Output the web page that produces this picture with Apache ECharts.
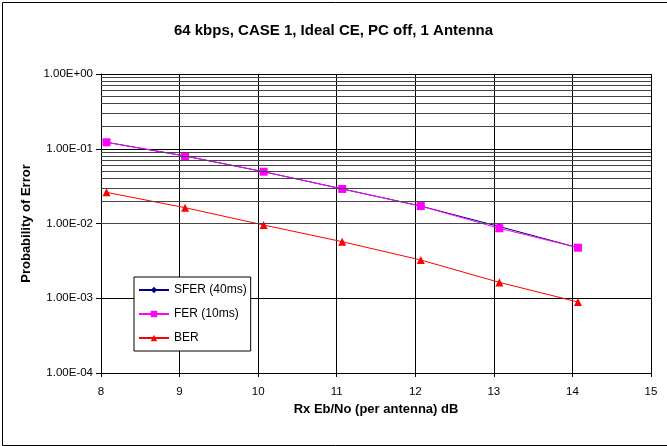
<!DOCTYPE html>
<html><head><meta charset="utf-8">
<script src="https://cdn.jsdelivr.net/npm/echarts@6/dist/echarts.min.js"></script>
<style>html,body{margin:0;padding:0;background:#fff}#c{width:667px;height:446px}</style>
</head><body><div id="c"></div>
<script>
var xValues = [8.07, 9.07, 10.07, 11.07, 12.07, 13.07, 14.07];
var sferValues = [0.122, 0.080, 0.0493, 0.029, 0.0171, 0.0091, 0.00475];
var ferValues = [0.122, 0.080, 0.0493, 0.029, 0.0171, 0.00863, 0.00475];
var berValues = [0.0261, 0.01627, 0.00955, 0.00571, 0.00325, 0.00163, 0.000891];
var minorLevels = [];
[1e-4, 1e-3, 1e-2, 1e-1].forEach(function (d) {
  for (var k = 2; k <= 9; k++) minorLevels.push(+(d * k).toPrecision(3));
});
function pairs(ys) { return xValues.map(function (x, i) { return [x, ys[i]]; }); }
function fmt(v) {
  var e = Math.round(Math.log10(v));
  var m = v / Math.pow(10, e);
  var s = e < 0 ? '-' : '+';
  var a = Math.abs(e);
  return m.toFixed(2) + 'E' + s + (a < 10 ? '0' : '') + a;
}
var font = 'Liberation Sans, Arial, sans-serif';
var chart = echarts.init(document.getElementById('c'), null, {renderer: 'canvas'});
chart.setOption({
  backgroundColor: '#fff',
  animation: false,
  title: {
    text: '64 kbps, CASE 1, Ideal CE, PC off, 1 Antenna',
    left: 'center', top: 18,
    textStyle: {fontFamily: font, fontSize: 15, fontWeight: 'bold', color: '#000'}
  },
  graphic: [{
    type: 'rect', left: 0, top: 0, z: -1,
    shape: {x: 0.5, y: 0.5, width: 666, height: 443},
    style: {fill: 'none', stroke: '#000', lineWidth: 1}
  }],
  grid: {left: 101, right: 16, top: 74, bottom: 73},
  legend: {
    orient: 'vertical', left: 134, top: 277,
    backgroundColor: '#fff', borderColor: '#000', borderWidth: 1,
    padding: [7, 4, 7, 4], itemGap: 12, itemWidth: 30, itemHeight: 8,
    textStyle: {fontFamily: font, fontSize: 12, color: '#000'},
    data: ['SFER (40ms)', 'FER (10ms)', 'BER']
  },
  xAxis: {
    type: 'value', min: 8, max: 15, interval: 1,
    name: 'Rx Eb/No (per antenna) dB', nameLocation: 'middle', nameGap: 30,
    nameTextStyle: {fontFamily: font, fontSize: 13, fontWeight: 'bold', color: '#000'},
    axisLine: {lineStyle: {color: '#000', width: 1}},
    axisTick: {show: true, inside: false, length: 4, lineStyle: {color: '#000'}},
    axisLabel: {fontFamily: font, fontSize: 11.5, color: '#000', margin: 13},
    splitLine: {show: true, lineStyle: {color: '#000', width: 1}}
  },
  yAxis: {
    type: 'log', logBase: 10, min: 1e-4, max: 1,
    name: 'Probability of Error', nameLocation: 'middle', nameGap: 67,
    nameTextStyle: {fontFamily: font, fontSize: 13, fontWeight: 'bold', color: '#000'},
    axisLine: {show: true, lineStyle: {color: '#000', width: 1}},
    axisTick: {show: true, length: 5, lineStyle: {color: '#000'}},
    axisLabel: {fontFamily: font, fontSize: 11.5, color: '#000', margin: 8, formatter: fmt},
    splitLine: {show: true, lineStyle: {color: '#000', width: 1}}
  },
  series: [
    {
      name: 'grid', type: 'line', data: [], silent: true, legendHoverLink: false,
      markLine: {
        silent: true, symbol: 'none', label: {show: false},
        lineStyle: {color: '#444', width: 1, type: 'solid'},
        data: minorLevels.map(function (v) { return {yAxis: v}; })
      }
    },
    {
      name: 'SFER (40ms)', type: 'line', data: pairs(sferValues),
      symbol: 'diamond', symbolSize: 7, z: 3,
      itemStyle: {color: '#000080'}, lineStyle: {color: '#000080', width: 1}
    },
    {
      name: 'FER (10ms)', type: 'line', data: pairs(ferValues),
      symbol: 'rect', symbolSize: 8, z: 4,
      itemStyle: {color: '#FF00FF'}, lineStyle: {color: '#FF00FF', width: 1}
    },
    {
      name: 'BER', type: 'line', data: pairs(berValues),
      symbol: 'triangle', symbolSize: 8, z: 4,
      itemStyle: {color: '#FF0000'}, lineStyle: {color: '#FF0000', width: 1}
    }
  ]
});
</script></body></html>
